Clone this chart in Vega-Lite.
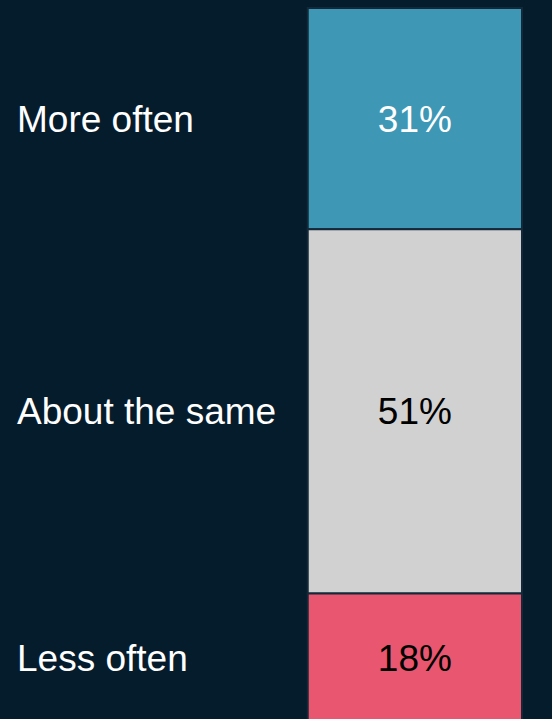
{
  "$schema": "https://vega.github.io/schema/vega-lite/v6.json",
  "width": 505,
  "height": 714,
  "padding": {"left": 17, "right": 30, "top": 8, "bottom": 0},
  "autosize": {"type": "none"},
  "background": "#051c2c",
  "config": {"view": {"stroke": null}, "font": "Liberation Sans"},
  "data": {
    "values": [
      {"answer": "More often", "share": 0.31, "rank": 1},
      {"answer": "About the same", "share": 0.51, "rank": 2},
      {"answer": "Less often", "share": 0.18, "rank": 3}
    ]
  },
  "layer": [
    {
      "mark": {"type": "bar", "stroke": "#13293a", "strokeWidth": 2},
      "encoding": {
        "x": {"datum": "bar", "type": "nominal", "scale": {"domain": ["label", "bar"], "paddingInner": 0.263, "paddingOuter": 0}, "axis": null},
        "y": {"field": "share", "type": "quantitative", "stack": "zero", "scale": {"domain": [0, 1], "reverse": true, "nice": false}, "axis": null},
        "order": {"field": "rank", "type": "quantitative"},
        "color": {"field": "answer", "type": "nominal", "scale": {"domain": ["More often", "About the same", "Less often"], "range": ["#3e97b5", "#d1d1d1", "#e8566f"]}, "legend": null}
      }
    },
    {
      "mark": {"type": "text", "fontSize": 37, "align": "left", "baseline": "middle", "dy": 2, "color": "#ffffff"},
      "encoding": {
        "x": {"datum": "label", "type": "nominal", "bandPosition": 0},
        "y": {"field": "share", "type": "quantitative", "stack": "zero", "bandPosition": 0.5},
        "order": {"field": "rank", "type": "quantitative"},
        "text": {"field": "answer"}
      }
    },
    {
      "mark": {"type": "text", "fontSize": 37, "align": "center", "baseline": "middle", "dy": 2},
      "encoding": {
        "x": {"datum": "bar", "type": "nominal"},
        "y": {"field": "share", "type": "quantitative", "stack": "zero", "bandPosition": 0.5},
        "order": {"field": "rank", "type": "quantitative"},
        "text": {"field": "share", "format": ".0%"},
        "color": {"condition": {"test": "datum.answer === 'More often'", "value": "#ffffff"}, "value": "#000000"}
      }
    }
  ]
}
